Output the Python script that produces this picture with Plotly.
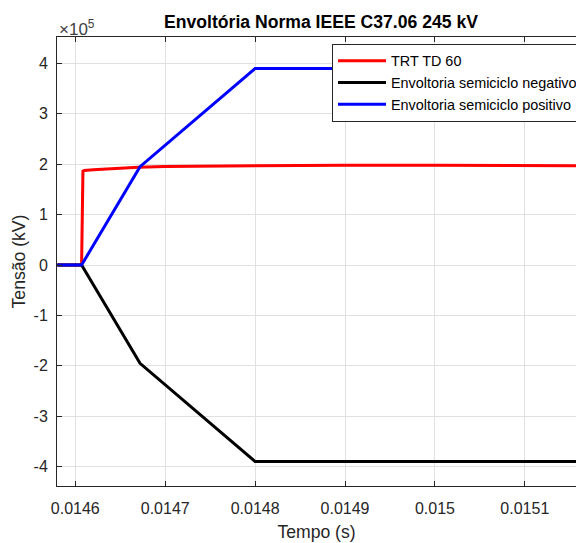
import plotly.graph_objects as go

# ---- data ----
t_env = [0.01458, 0.014607, 0.014672, 0.0148, 0.01516]
env_pos = [0, 0, 1.95e5, 3.9e5, 3.9e5]
env_neg = [0, 0, -1.95e5, -3.9e5, -3.9e5]

t_trt = [0.01458, 0.014607, 0.0146085, 0.01461, 0.01462, 0.01464, 0.01467,
         0.0147, 0.01475, 0.0148, 0.0149, 0.015, 0.0151, 0.01516]
v_trt = [0, 0, 1.86e5, 1.875e5, 1.89e5, 1.91e5, 1.94e5,
         1.955e5, 1.965e5, 1.97e5, 1.98e5, 1.98e5, 1.975e5, 1.97e5]

x_ticks = [0.0146, 0.0147, 0.0148, 0.0149, 0.015, 0.0151]
x_tick_labels = ["0.0146", "0.0147", "0.0148", "0.0149", "0.015", "0.0151"]
y_ticks = [-4e5, -3e5, -2e5, -1e5, 0, 1e5, 2e5, 3e5, 4e5]
y_tick_labels = ["-4", "-3", "-2", "-1", "0", "1", "2", "3", "4"]

names = ["TRT TD 60", "Envoltoria semiciclo negativo", "Envoltoria semiciclo positivo"]

AX = "#262626"
FONT = "Arial"

fig = go.Figure()
fig.add_trace(go.Scatter(x=t_trt, y=v_trt, mode="lines", name=names[0],
                         line=dict(color="#ff0000", width=3)))
fig.add_trace(go.Scatter(x=t_env, y=env_neg, mode="lines", name=names[1],
                         line=dict(color="#000000", width=3)))
fig.add_trace(go.Scatter(x=t_env, y=env_pos, mode="lines", name=names[2],
                         line=dict(color="#0000ff", width=3)))

fig.update_layout(
    width=576, height=543,
    margin=dict(l=57, r=0, t=37, b=57, autoexpand=False),
    paper_bgcolor="white", plot_bgcolor="white",
    font=dict(family=FONT, color=AX),
    title=dict(text="<b>Envoltória Norma IEEE C37.06 245 kV</b>",
               x=321/576, xanchor="center", xref="container",
               y=1-22/543, yanchor="middle", yref="container",
               font=dict(size=17.6, color="#000000", family=FONT)),
    legend=dict(x=(332-57)/519, y=1-(44-37)/449, xanchor="left", yanchor="top",
                bgcolor="white", bordercolor=AX, borderwidth=1,
                font=dict(size=14.4, color="#000000", family=FONT),
                itemwidth=48, tracegroupgap=0),
    showlegend=True,
)

fig.update_xaxes(
    range=[0.01457965, 0.0151569],
    tickvals=x_ticks, ticktext=x_tick_labels,
    ticks="inside", ticklen=5, tickcolor=AX, tickwidth=1,
    tickfont=dict(size=16, color=AX),
    ticklabelstandoff=8,
    showline=True, linecolor=AX, linewidth=1, mirror="ticks",
    showgrid=True, gridcolor="#e0e0e0", gridwidth=1, zeroline=False,
    title=dict(text="Tempo (s)", font=dict(size=17.6, color=AX), standoff=9),
)
fig.update_yaxes(
    range=[-4.385e5, 4.524e5],
    tickvals=y_ticks, ticktext=y_tick_labels,
    ticks="inside", ticklen=5, tickcolor=AX, tickwidth=1,
    tickfont=dict(size=16, color=AX),
    ticklabelstandoff=5,
    showline=True, linecolor=AX, linewidth=1, mirror=False,
    showgrid=True, gridcolor="#e0e0e0", gridwidth=1, zeroline=False,
    title=dict(text="Tensão (kV)", font=dict(size=17.6, color=AX), standoff=3),
)

fig.add_annotation(text="×10<sup>5</sup>", xref="paper", yref="paper",
                   x=0, y=1, xanchor="left", yanchor="bottom", yshift=-4,
                   showarrow=False, font=dict(size=17, color="#404040", family=FONT))

fig.write_html("out.html", config={"displayModeBar": False},
               post_script="document.body.style.margin='0';document.body.style.overflow='hidden';")
